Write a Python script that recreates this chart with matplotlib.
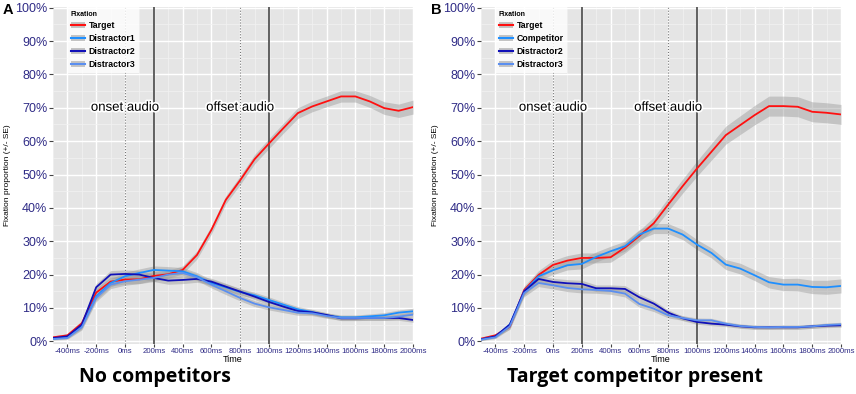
import matplotlib
matplotlib.use('Agg')
import matplotlib.pyplot as plt
import matplotlib.patheffects as pe
from matplotlib.lines import Line2D
from matplotlib.patches import Patch
from matplotlib.ticker import MultipleLocator, FuncFormatter

plt.rcParams['font.family'] = ['Liberation Sans', 'DejaVu Sans']

# time bins (ms)
time = list(range(-500, 2001, 100))

# panel A: no competitors (% fixations)
a_target = [1.2, 1.8, 5.4, 14.6, 17.9, 18.5, 18.6, 19.6, 20.1, 21.4, 25.9, 33.4, 42.4, 48.3,
            54.6, 59.3, 63.9, 68.4, 70.4, 71.9, 73.4, 73.4, 71.9, 69.9, 69.1, 70.2]
a_dis1 = [0.8, 1.2, 4.5, 13.5, 17.5, 19.5, 20.5, 21.4, 21.2, 21.0, 19.5, 17.5, 16.2, 14.8,
          13.8, 12.4, 11.0, 9.6, 8.8, 7.8, 7.2, 7.2, 7.5, 7.8, 8.6, 9.0]
a_dis2 = [1.0, 1.5, 5.0, 16.2, 20.0, 20.2, 20.0, 19.0, 18.2, 18.4, 18.7, 17.9, 16.4, 14.9,
          13.4, 11.8, 10.4, 9.1, 8.7, 7.9, 6.9, 6.9, 7.0, 7.0, 7.0, 6.4]
a_dis3 = [0.7, 1.0, 4.2, 13.0, 17.0, 18.0, 18.5, 19.0, 20.0, 20.5, 19.2, 17.0, 15.0, 13.0,
          11.3, 10.2, 9.4, 8.6, 8.4, 7.6, 7.0, 7.0, 7.0, 7.0, 7.4, 8.0]
a_target_se = [0.4, 0.5, 0.8, 1.2, 1.3, 1.3, 1.3, 1.3, 1.2, 1.2, 1.2, 1.2, 1.2, 1.3,
               1.4, 1.5, 1.5, 1.6, 1.6, 1.6, 1.7, 1.7, 1.8, 1.9, 2.0, 2.1]
a_dis1_se = [0.3, 0.4, 0.8, 1.1, 1.2, 1.2, 1.2, 1.2, 1.2, 1.1, 1.1, 1.0, 1.0, 1.0,
             0.9, 0.9, 0.8, 0.8, 0.8, 0.7, 0.7, 0.7, 0.7, 0.8, 0.8, 0.9]
a_dis2_se = [0.3, 0.4, 0.8, 1.1, 1.2, 1.2, 1.2, 1.1, 1.1, 1.1, 1.0, 1.0, 1.0, 0.9,
             0.9, 0.9, 0.8, 0.8, 0.7, 0.7, 0.7, 0.7, 0.7, 0.7, 0.7, 0.7]
a_dis3_se = [0.3, 0.4, 0.8, 1.1, 1.2, 1.2, 1.2, 1.1, 1.1, 1.1, 1.0, 1.0, 1.0, 0.9,
             0.9, 0.8, 0.8, 0.8, 0.7, 0.7, 0.7, 0.7, 0.7, 0.7, 0.8, 0.8]

# panel B: target competitor present
b_target = [0.8, 1.8, 4.4, 15.4, 19.9, 22.9, 24.2, 25.0, 25.0, 25.2, 28.1, 31.6, 35.4, 41.0,
            46.5, 51.8, 56.8, 61.8, 64.8, 67.8, 70.5, 70.5, 70.3, 68.8, 68.5, 68.0]
b_comp = [0.6, 1.4, 5.0, 15.0, 19.5, 21.3, 22.8, 23.2, 25.3, 27.0, 28.5, 32.0, 33.8, 33.8,
          32.0, 29.0, 26.5, 23.0, 21.8, 19.8, 17.7, 17.0, 17.0, 16.3, 16.2, 16.6]
b_dis2 = [0.6, 1.5, 5.0, 15.0, 18.7, 17.8, 17.4, 17.2, 15.9, 15.9, 15.7, 13.2, 11.3, 8.6,
          6.9, 5.8, 5.3, 5.0, 4.5, 4.2, 4.2, 4.2, 4.2, 4.5, 4.7, 4.8]
b_dis3 = [0.5, 1.2, 4.5, 14.5, 17.5, 16.8, 16.0, 15.6, 15.4, 15.1, 14.3, 11.2, 9.8, 7.8,
          7.0, 6.3, 6.3, 5.3, 4.6, 4.3, 4.2, 4.3, 4.3, 4.5, 4.9, 5.1]
b_target_se = [0.4, 0.5, 0.8, 1.2, 1.3, 1.4, 1.5, 1.5, 1.5, 1.5, 1.6, 1.7, 1.8, 2.0,
               2.1, 2.3, 2.5, 2.7, 2.8, 2.9, 3.0, 3.0, 3.0, 3.0, 3.0, 3.0]
b_comp_se = [0.3, 0.4, 0.8, 1.1, 1.2, 1.3, 1.4, 1.5, 1.5, 1.5, 1.5, 1.5, 1.5, 1.5,
             1.5, 1.5, 1.5, 1.5, 1.6, 1.6, 1.7, 1.8, 1.9, 2.0, 2.1, 2.1]
b_dis2_se = [0.3, 0.4, 0.8, 1.1, 1.1, 1.1, 1.1, 1.1, 1.0, 1.0, 1.0, 1.0, 0.9, 0.8,
             0.7, 0.7, 0.6, 0.6, 0.6, 0.6, 0.6, 0.6, 0.6, 0.6, 0.6, 0.6]
b_dis3_se = [0.3, 0.4, 0.8, 1.1, 1.1, 1.1, 1.1, 1.1, 1.0, 1.0, 1.0, 1.0, 0.9, 0.8,
             0.7, 0.7, 0.6, 0.6, 0.6, 0.6, 0.6, 0.6, 0.6, 0.6, 0.6, 0.6]

colors = ['#ff1010', '#1e8fff', '#1010b8', '#5b8ff0']
tick_color = '#2f2b86'
x_ticks = list(range(-400, 2001, 200))


def draw_panel(ax, names, series, ses):
    ax.set_facecolor('#e5e5e5')
    for s, se in zip(series, ses):
        lo = [v - e for v, e in zip(s, se)]
        hi = [v + e for v, e in zip(s, se)]
        ax.fill_between(time, lo, hi, color='#9a9a9a', alpha=0.45, lw=0, zorder=2)
    for s, c in zip(series, colors):
        ax.plot(time, s, color=c, lw=1.3, zorder=3)

    ax.axvline(0, color='#777777', lw=0.8, ls=':', zorder=2.5)
    ax.axvline(800, color='#777777', lw=0.8, ls=':', zorder=2.5)
    ax.axvline(200, color='#555555', lw=1.3, zorder=2.5)
    ax.axvline(1000, color='#555555', lw=1.3, zorder=2.5)
    for x, lab in [(0, 'onset audio'), (800, 'offset audio')]:
        ax.text(x, 70, lab, ha='center', va='center', fontsize=9.5, zorder=4,
                path_effects=[pe.withStroke(linewidth=2.5, foreground='white')])

    ax.set_xlim(-500, 2000)
    ax.set_ylim(-0.8, 100.2)
    ax.set_xticks(x_ticks)
    ax.set_xticklabels([f'{t}ms' for t in x_ticks])
    ax.xaxis.set_minor_locator(MultipleLocator(100))
    ax.yaxis.set_major_locator(MultipleLocator(10))
    ax.yaxis.set_minor_locator(MultipleLocator(5))
    ax.yaxis.set_major_formatter(FuncFormatter(lambda v, p: f'{v:.0f}%'))
    ax.grid(which='major', color='white', lw=1.0, zorder=0)
    ax.grid(which='minor', color='#f2f2f2', lw=0.5, zorder=0)
    ax.set_axisbelow(True)
    for sp in ax.spines.values():
        sp.set_visible(False)
    ax.tick_params(axis='y', which='major', labelsize=9, labelcolor=tick_color,
                   color='#444444', length=3, pad=1)
    ax.tick_params(axis='x', which='major', labelsize=5.6, labelcolor=tick_color,
                   color='#444444', length=2, pad=1)
    ax.tick_params(which='minor', length=0)
    ax.set_xlabel('Time', fontsize=6.5, labelpad=0)
    ax.set_ylabel('Fixation proportion (+/- SE)', fontsize=6, labelpad=3)

    handles = [(Patch(facecolor='#c4c4c4', edgecolor='none'), Line2D([], [], color=c, lw=1.5))
               for c in colors]
    leg = ax.legend(handles, names, loc='upper left', bbox_to_anchor=(0.04, 1.0),
                    borderaxespad=0, title='Fixation', frameon=True, fancybox=False,
                    prop={'weight': 'bold', 'size': 6.3}, handlelength=1.6,
                    handletextpad=0.4, labelspacing=0.45, borderpad=0.4)
    leg.get_title().set_fontsize(5)
    leg.get_title().set_fontweight('bold')
    leg._legend_box.align = 'left'
    leg.get_frame().set_edgecolor('white')
    leg.get_frame().set_linewidth(0)
    leg.set_zorder(5)


fig = plt.figure(figsize=(8.56, 3.94), dpi=100)
ax1 = fig.add_axes([0.0619, 0.1269, 0.4206, 0.8553])
ax2 = fig.add_axes([0.5619, 0.1269, 0.4206, 0.8553])

draw_panel(ax1, ['Target', 'Distractor1', 'Distractor2', 'Distractor3'],
           [a_target, a_dis1, a_dis2, a_dis3],
           [a_target_se, a_dis1_se, a_dis2_se, a_dis3_se])
draw_panel(ax2, ['Target', 'Competitor', 'Distractor2', 'Distractor3'],
           [b_target, b_comp, b_dis2, b_dis3],
           [b_target_se, b_comp_se, b_dis2_se, b_dis3_se])

fig.text(7.5 / 856, 1 - 9.5 / 394, 'A', fontsize=10.5, fontweight='bold', ha='center', va='center')
fig.text(436 / 856, 1 - 9.5 / 394, 'B', fontsize=10.5, fontweight='bold', ha='center', va='center')
fig.text(155 / 856, 1 - 377 / 394, 'No competitors', fontsize=14, fontweight='bold',
         family=['Open Sans', 'DejaVu Sans'], ha='center', va='center')
fig.text(635 / 856, 1 - 377 / 394, 'Target competitor present', fontsize=14, fontweight='bold',
         family=['Open Sans', 'DejaVu Sans'], ha='center', va='center')

fig.savefig('out.png', dpi=100)
